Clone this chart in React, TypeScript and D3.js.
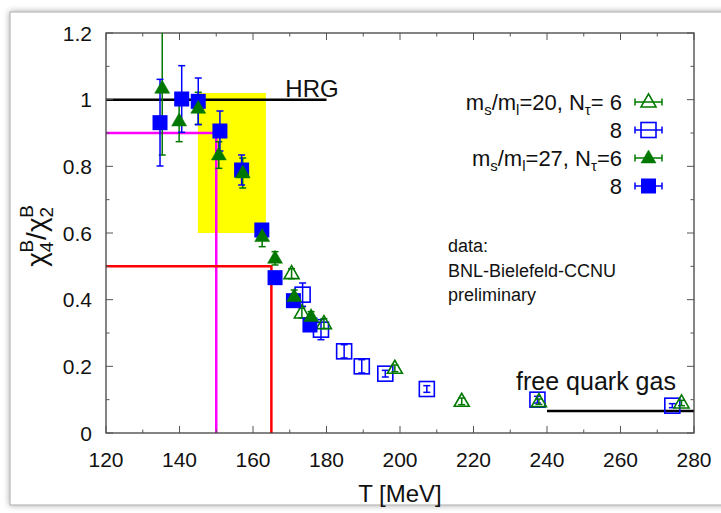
import React from 'react';
import * as d3 from 'd3';

const W = 721;
const H = 513;

const xTicks = [120, 140, 160, 180, 200, 220, 240, 260, 280];
const yTicks = [0, 0.2, 0.4, 0.6, 0.8, 1, 1.2];
const yTickLabels = ['0', '0.2', '0.4', '0.6', '0.8', '1', '1.2'];

// ms/ml=20, Ntau=6 (open green triangles)
const t20n6 = [170.5, 173.3, 179.3, 198.6, 216.8, 237.8, 276.6];
const v20n6 = [0.478, 0.36, 0.328, 0.194, 0.095, 0.094, 0.09];
const e20n6 = [0.015, 0.015, 0.015, 0.01, 0.01, 0.008, 0.008];

// ms/ml=20, Ntau=8 (open blue squares)
const t20n8 = [173.5, 178.5, 184.8, 189.6, 196.0, 207.3, 237.4, 274.1];
const v20n8 = [0.415, 0.31, 0.245, 0.2, 0.178, 0.132, 0.1, 0.082];
const e20n8 = [0.035, 0.03, 0.02, 0.02, 0.01, 0.01, 0.01, 0.006];

// ms/ml=27, Ntau=6 (filled green triangles)
const t27n6 = [135.3, 139.9, 145.1, 150.7, 157.2, 162.5, 166.0, 171.2, 175.8];
const v27n6 = [1.034, 0.936, 0.974, 0.834, 0.78, 0.589, 0.524, 0.409, 0.349];
const e27n6 = [0.2, 0.062, 0.048, 0.04, 0.045, 0.03, 0.02, 0.02, 0.015];

// ms/ml=27, Ntau=8 (filled blue squares)
const t27n8 = [134.7, 140.6, 145.1, 151.0, 156.9, 162.4, 166.0, 171.0, 175.5];
const v27n8 = [0.931, 1.002, 0.995, 0.906, 0.789, 0.609, 0.466, 0.397, 0.324];
const e27n8 = [0.13, 0.1, 0.07, 0.06, 0.045, 0.015, 0.015, 0.015, 0.015];

// reference lines / band
const hrgLine = { t0: 120, t1: 180, v: 1 };
const freeLine = { t0: 240, t1: 280, v: 0.066 };
const band = { t0: 145, t1: 163.5, v0: 0.6, v1: 1.02 };
const magenta = { t: 150, v: 0.9 };
const red = { t: 165, v: 0.5 };

const GREEN = '#007800';
const BLUE = '#0000ff';
const FONT = "'Liberation Sans', Arial, Helvetica, sans-serif";

type Kind = 'tri' | 'sq';

function Marker({ kind, filled, cx, cy, color }: { kind: Kind; filled: boolean; cx: number; cy: number; color: string }) {
  if (kind === 'sq') {
    const s = 15;
    return (
      <rect x={cx - s / 2} y={cy - s / 2} width={s} height={s}
        fill={filled ? color : 'none'} stroke={color} strokeWidth={filled ? 0 : 1.6} />
    );
  }
  const w = 15, h = 13;
  const pts = [[cx, cy - h * 0.62], [cx - w / 2, cy + h * 0.38], [cx + w / 2, cy + h * 0.38]];
  return (
    <polygon points={pts.map(p => p.join(',')).join(' ')}
      fill={filled ? color : 'none'} stroke={color} strokeWidth={filled ? 0.5 : 1.6} strokeLinejoin="miter" />
  );
}

export default function App() {
  const x = d3.scaleLinear().domain([120, 280]).range([106, 694]);
  const y = d3.scaleLinear().domain([0, 1.2]).range([433, 33]);
  const [x0, x1] = x.range();
  const [yb, yt] = y.range();

  const xMinor = d3.range(130, 280, 20);
  const yMinor = d3.range(0.1, 1.2, 0.2);

  const clipY = (v: number) => Math.max(yt, Math.min(yb, y(v)));

  const errBars = (ts: number[], vs: number[], es: number[], color: string, key: string) =>
    ts.map((t, i) => {
      const cx = x(t);
      const top = y(vs[i] + es[i]);
      const bot = y(vs[i] - es[i]);
      const topC = clipY(vs[i] + es[i]);
      return (
        <g key={key + i} stroke={color} strokeWidth={1.5}>
          <line x1={cx} x2={cx} y1={topC} y2={bot} />
          {top >= yt && <line x1={cx - 3.5} x2={cx + 3.5} y1={top} y2={top} />}
          <line x1={cx - 3.5} x2={cx + 3.5} y1={bot} y2={bot} />
        </g>
      );
    });

  const markers = (ts: number[], vs: number[], kind: Kind, filled: boolean, color: string, key: string) =>
    ts.map((t, i) => <Marker key={key + i} kind={kind} filled={filled} cx={x(t)} cy={y(vs[i])} color={color} />);

  const legendRows = [
    { y: 102, kind: 'tri' as Kind, filled: false, color: GREEN, label: 'a' },
    { y: 130, kind: 'sq' as Kind, filled: false, color: BLUE, label: 'b' },
    { y: 158, kind: 'tri' as Kind, filled: true, color: GREEN, label: 'c' },
    { y: 186, kind: 'sq' as Kind, filled: true, color: BLUE, label: 'd' },
  ];

  const legendText = (label: string, ly: number) => {
    const common = { x: 622, y: ly + 8, textAnchor: 'end' as const, fontSize: 22, fill: '#111' };
    if (label === 'a')
      return (
        <text {...common}>m<tspan fontSize={15} dy={5}>s</tspan><tspan dy={-5}>/m</tspan><tspan fontSize={15} dy={5}>l</tspan><tspan dy={-5}>=20, N</tspan><tspan fontSize={15} dy={5}>τ</tspan><tspan dy={-5}>= 6</tspan></text>
      );
    if (label === 'c')
      return (
        <text {...common}>m<tspan fontSize={15} dy={5}>s</tspan><tspan dy={-5}>/m</tspan><tspan fontSize={15} dy={5}>l</tspan><tspan dy={-5}>=27, N</tspan><tspan fontSize={15} dy={5}>τ</tspan><tspan dy={-5}>=6</tspan></text>
      );
    return <text {...common}>8</text>;
  };

  return (
    <svg width={W} height={H} style={{ position: 'absolute', left: 0, top: 0, fontFamily: FONT }}>
      <defs>
        <filter id="sh" x="-5%" y="-5%" width="110%" height="110%">
          <feDropShadow dx="0" dy="0" stdDeviation="3" floodColor="#000" floodOpacity="0.35" />
        </filter>
        <clipPath id="plotclip">
          <rect x={x0} y={yt} width={x1 - x0} height={yb - yt} />
        </clipPath>
      </defs>
      <rect x={0} y={0} width={W} height={H} fill="#fff" />
      <rect x={10} y={12} width={740} height={493} fill="#fff" stroke="#aaa" strokeWidth={1} filter="url(#sh)" />

      {/* band and reference lines */}
      <rect x={x(band.t0)} y={y(band.v1)} width={x(band.t1) - x(band.t0)} height={y(band.v0) - y(band.v1)} fill="#ffff00" />
      <polyline points={`${x0},${y(magenta.v)} ${x(magenta.t)},${y(magenta.v)} ${x(magenta.t)},${yb}`} fill="none" stroke="#ff00ff" strokeWidth={2.5} />
      <polyline points={`${x0},${y(red.v)} ${x(red.t)},${y(red.v)} ${x(red.t)},${yb}`} fill="none" stroke="#ff0000" strokeWidth={2.5} />
      <line x1={x(hrgLine.t0)} x2={x(hrgLine.t1)} y1={y(hrgLine.v)} y2={y(hrgLine.v)} stroke="#000" strokeWidth={2.5} />
      <line x1={x(freeLine.t0)} x2={x(freeLine.t1)} y1={y(freeLine.v)} y2={y(freeLine.v)} stroke="#000" strokeWidth={2.5} />

      <text x={312} y={97} textAnchor="middle" fontSize={24} fill="#111">HRG</text>
      <text x={596} y={390} textAnchor="middle" fontSize={25} fill="#111">free quark gas</text>

      {/* axes frame */}
      <rect x={x0} y={yt} width={x1 - x0} height={yb - yt} fill="none" stroke="#333" strokeWidth={1.2} />
      <g stroke="#555" strokeWidth={1}>
        {xTicks.map(t => (
          <g key={'xt' + t}>
            <line x1={x(t)} x2={x(t)} y1={yb} y2={yb - 7} />
            <line x1={x(t)} x2={x(t)} y1={yt} y2={yt + 7} />
          </g>
        ))}
        {xMinor.map(t => (
          <g key={'xm' + t}>
            <line x1={x(t)} x2={x(t)} y1={yb} y2={yb - 3.5} />
            <line x1={x(t)} x2={x(t)} y1={yt} y2={yt + 3.5} />
          </g>
        ))}
        {yTicks.map(v => (
          <g key={'yt' + v}>
            <line x1={x0} x2={x0 + 7} y1={y(v)} y2={y(v)} />
            <line x1={x1} x2={x1 - 7} y1={y(v)} y2={y(v)} />
          </g>
        ))}
        {yMinor.map(v => (
          <g key={'ym' + v}>
            <line x1={x0} x2={x0 + 3.5} y1={y(v)} y2={y(v)} />
            <line x1={x1} x2={x1 - 3.5} y1={y(v)} y2={y(v)} />
          </g>
        ))}
      </g>

      {/* data */}
      <g clipPath="url(#plotclip)">
        {errBars(t20n8, v20n8, e20n8, BLUE, 'e2')}
        {markers(t20n8, v20n8, 'sq', false, BLUE, 'm2')}
        {errBars(t20n6, v20n6, e20n6, GREEN, 'e1')}
        {markers(t20n6, v20n6, 'tri', false, GREEN, 'm1')}
        {errBars(t27n6, v27n6, e27n6, GREEN, 'e3')}
        {errBars(t27n8, v27n8, e27n8, BLUE, 'e4')}
        {markers(t27n8, v27n8, 'sq', true, BLUE, 'm4')}
        {markers(t27n6, v27n6, 'tri', true, GREEN, 'm3')}
      </g>

      {/* tick labels */}
      {xTicks.map(t => (
        <text key={'xl' + t} x={x(t)} y={467} textAnchor="middle" fontSize={21} fill="#111">{t}</text>
      ))}
      {yTicks.map((v, i) => (
        <text key={'yl' + v} x={92} y={y(v) + 7.5} textAnchor="end" fontSize={21} fill="#111">{yTickLabels[i]}</text>
      ))}

      <text x={400} y={502} textAnchor="middle" fontSize={24} fill="#111">T [MeV]</text>
      <text transform="translate(46,236) rotate(-90)" textAnchor="middle" fontSize={28} fill="#111">
        χ<tspan fontSize={19} dy={7}>4</tspan><tspan fontSize={19} dx={-11} dy={-20}>B</tspan><tspan dy={13}>/χ</tspan><tspan fontSize={19} dy={7}>2</tspan><tspan fontSize={19} dx={-11} dy={-20}>B</tspan>
      </text>

      {/* legend */}
      {legendRows.map(r => (
        <g key={'lg' + r.label}>
          {legendText(r.label, r.y)}
          <g stroke={r.color} strokeWidth={1.5}>
            <line x1={635} x2={662} y1={r.y} y2={r.y} />
            <line x1={635} x2={635} y1={r.y - 3.5} y2={r.y + 3.5} />
            <line x1={662} x2={662} y1={r.y - 3.5} y2={r.y + 3.5} />
          </g>
          <Marker kind={r.kind} filled={r.filled} cx={648.5} cy={r.y} color={r.color} />
        </g>
      ))}

      <text x={448} y={252} fontSize={18} fill="#111">data:</text>
      <text x={448} y={277} fontSize={18} fill="#111">BNL-Bielefeld-CCNU</text>
      <text x={448} y={301} fontSize={18} fill="#111">preliminary</text>
    </svg>
  );
}
